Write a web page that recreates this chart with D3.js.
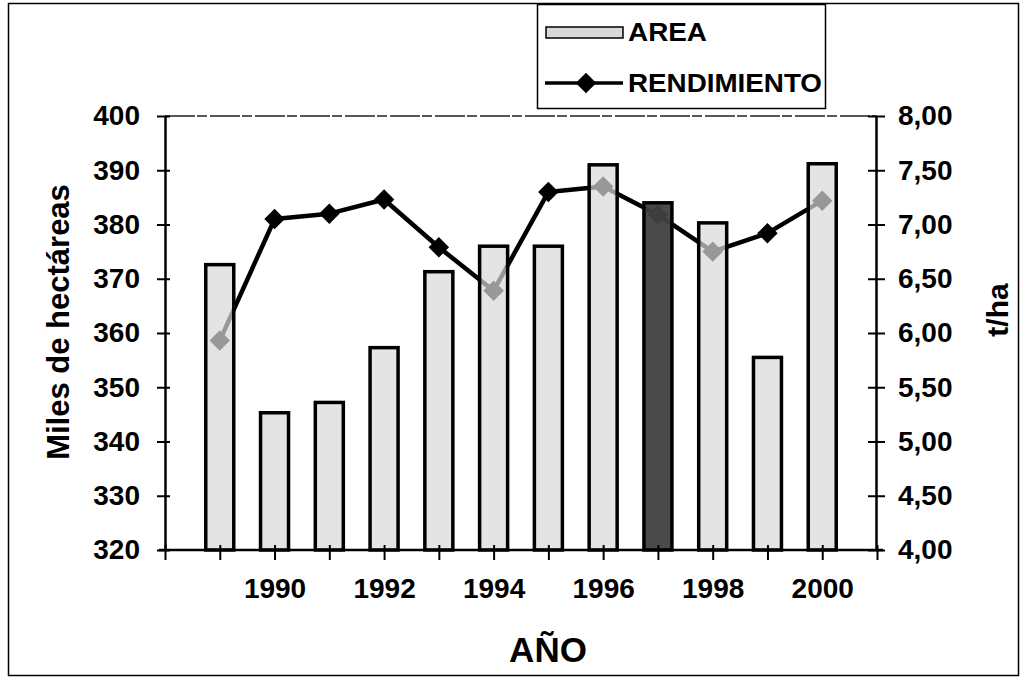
<!DOCTYPE html>
<html>
<head>
<meta charset="utf-8">
<script src="https://cdn.jsdelivr.net/npm/d3@7"></script>
<style>
  body { margin: 0; background: #fff; }
  text { font-family: "Liberation Sans", Arial, sans-serif; }
</style>
</head>
<body>
<div id="chart"></div>
<script>
// data
const years = [1989, 1990, 1991, 1992, 1993, 1994, 1995, 1996, 1997, 1998, 1999, 2000];
const area = [372.6, 345.3, 347.2, 357.3, 371.3, 376.0, 376.0, 391.0, 384.0, 380.3, 355.5, 391.2];
const rendimiento = [5.93, 7.05, 7.10, 7.23, 6.79, 6.39, 7.30, 7.35, 7.09, 6.75, 6.92, 7.22];
const highlightYear = 1997;
const areaTicks = [320, 330, 340, 350, 360, 370, 380, 390, 400];
const rendTicks = [4, 4.5, 5, 5.5, 6, 6.5, 7, 7.5, 8];
const yearLabels = [1990, 1992, 1994, 1996, 1998, 2000];

const W = 1025, H = 680;
const plot = {left: 165, right: 877, top: 116, bottom: 550};

var svg = d3.select("#chart")
    .append("svg")
    .attr("width", W)
    .attr("height", H);

// outer frame
svg.append("rect")
    .attr("x", 8.5).attr("y", 3.5)
    .attr("width", 1010).attr("height", 672)
    .attr("fill", "none").attr("stroke", "#000").attr("stroke-width", 1.5);

var x = d3.scaleLinear().domain([1988, 2001]).range([plot.left, plot.right]);
var yL = d3.scaleLinear().domain([320, 400]).range([plot.bottom, plot.top]);
var yR = d3.scaleLinear().domain([4, 8]).range([plot.bottom, plot.top]);

// top border of plot area (faint, broken)
svg.append("line")
    .attr("x1", plot.left).attr("x2", plot.right)
    .attr("y1", plot.top).attr("y2", plot.top)
    .attr("stroke", "#222").attr("stroke-width", 1.5)
    .attr("stroke-dasharray", "30,2,10,3");

// line first, bars drawn over it (bars partly see-through like the scan)
var line = d3.line()
    .x(function (d, i) { return x(years[i]); })
    .y(function (d) { return yR(d); });

svg.append("path")
    .datum(rendimiento)
    .attr("d", line)
    .attr("fill", "none")
    .attr("stroke", "#000")
    .attr("stroke-width", 4.5)
    .attr("stroke-linejoin", "round");

var diamond = d3.symbol().type(d3.symbolSquare).size(210);

svg.append("g")
    .selectAll("path")
    .data(rendimiento)
    .enter()
    .append("path")
    .attr("d", diamond)
    .attr("transform", function (d, i) {
        return "translate(" + x(years[i]) + "," + yR(d) + ") rotate(45)";
    })
    .attr("fill", "#000");

// bars
const barW = 28;
svg.append("g")
    .selectAll("rect")
    .data(area)
    .enter()
    .append("rect")
    .attr("x", function (d, i) { return x(years[i]) - barW / 2; })
    .attr("y", function (d) { return yL(d); })
    .attr("width", barW)
    .attr("height", function (d) { return yL(320) - yL(d); })
    .attr("fill", function (d, i) { return years[i] === highlightYear ? "#404040" : "#d8d8d8"; })
    .attr("fill-opacity", function (d, i) { return years[i] === highlightYear ? 0.95 : 0.7; })
    .attr("stroke", "#000")
    .attr("stroke-width", 3.5);

// left axis
var gL = svg.append("g")
    .attr("transform", "translate(" + plot.left + ",0)")
    .call(d3.axisLeft(yL).tickValues(areaTicks).tickSize(8).tickPadding(17).tickSizeOuter(0));
gL.select(".domain").attr("stroke-width", 2.5);
gL.selectAll(".tick line").attr("x2", -8).attr("x1", 5).attr("stroke-width", 2);
gL.selectAll(".tick text")
    .attr("font-size", 28).attr("font-weight", "bold").attr("fill", "#000")
    .style("font-family", "'Liberation Sans', Arial, sans-serif");

// right axis
var gR = svg.append("g")
    .attr("transform", "translate(" + (plot.right - 1) + ",0)")
    .call(d3.axisRight(yR).tickValues(rendTicks).tickSize(9).tickPadding(13).tickSizeOuter(0)
        .tickFormat(function (d) { return d3.format(".2f")(d).replace(".", ","); }));
gR.select(".domain").attr("stroke-width", 2.5);
gR.selectAll(".tick line").attr("x1", -8).attr("x2", 9).attr("stroke-width", 2);
gR.selectAll(".tick text")
    .attr("font-size", 28).attr("font-weight", "bold").attr("fill", "#000")
    .style("font-family", "'Liberation Sans', Arial, sans-serif");

// bottom axis
var gB = svg.append("g")
    .attr("transform", "translate(0," + plot.bottom + ")")
    .call(d3.axisBottom(x).tickValues(d3.range(1988, 2002)).tickSize(10).tickPadding(18).tickSizeOuter(0)
        .tickFormat(function (d) { return yearLabels.indexOf(d) >= 0 ? String(d) : ""; }));
gB.select(".domain").attr("stroke-width", 2.5).attr("d", "M" + (plot.left - 6) + ",0H" + (plot.right + 6));
gB.selectAll(".tick line").attr("y1", -5).attr("y2", 10).attr("stroke-width", 2);
gB.selectAll(".tick text")
    .attr("font-size", 28).attr("font-weight", "bold").attr("fill", "#000")
    .style("font-family", "'Liberation Sans', Arial, sans-serif");

// axis titles
svg.append("text")
    .attr("transform", "translate(69,322) rotate(-90)")
    .attr("text-anchor", "middle")
    .attr("font-size", 31).attr("font-weight", "bold")
    .text("Miles de hectáreas");

svg.append("text")
    .attr("transform", "translate(1008,310) rotate(-90)")
    .attr("text-anchor", "middle")
    .attr("font-size", 30).attr("font-weight", "bold")
    .text("t/ha");

svg.append("text")
    .attr("x", 548).attr("y", 662)
    .attr("text-anchor", "middle")
    .attr("font-size", 35).attr("font-weight", "bold")
    .text("AÑO");

// legend
var leg = svg.append("g");
leg.append("rect")
    .attr("x", 537.5).attr("y", 4.5).attr("width", 288).attr("height", 104)
    .attr("fill", "#fff").attr("stroke", "#000").attr("stroke-width", 1.5);
leg.append("rect")
    .attr("x", 546).attr("y", 27).attr("width", 77).attr("height", 11)
    .attr("fill", "#d8d8d8").attr("stroke", "#000").attr("stroke-width", 1.5);
leg.append("text")
    .attr("x", 628).attr("y", 41)
    .attr("font-size", 25).attr("font-weight", "bold")
    .attr("textLength", 79).attr("lengthAdjust", "spacingAndGlyphs")
    .text("AREA");
leg.append("line")
    .attr("x1", 545).attr("x2", 623).attr("y1", 83).attr("y2", 83)
    .attr("stroke", "#000").attr("stroke-width", 3.5);
leg.append("path")
    .attr("d", diamond)
    .attr("transform", "translate(586,83) rotate(45)")
    .attr("fill", "#000");
leg.append("text")
    .attr("x", 628).attr("y", 92)
    .attr("font-size", 25).attr("font-weight", "bold")
    .attr("textLength", 194).attr("lengthAdjust", "spacingAndGlyphs")
    .text("RENDIMIENTO");
</script>
</body>
</html>
